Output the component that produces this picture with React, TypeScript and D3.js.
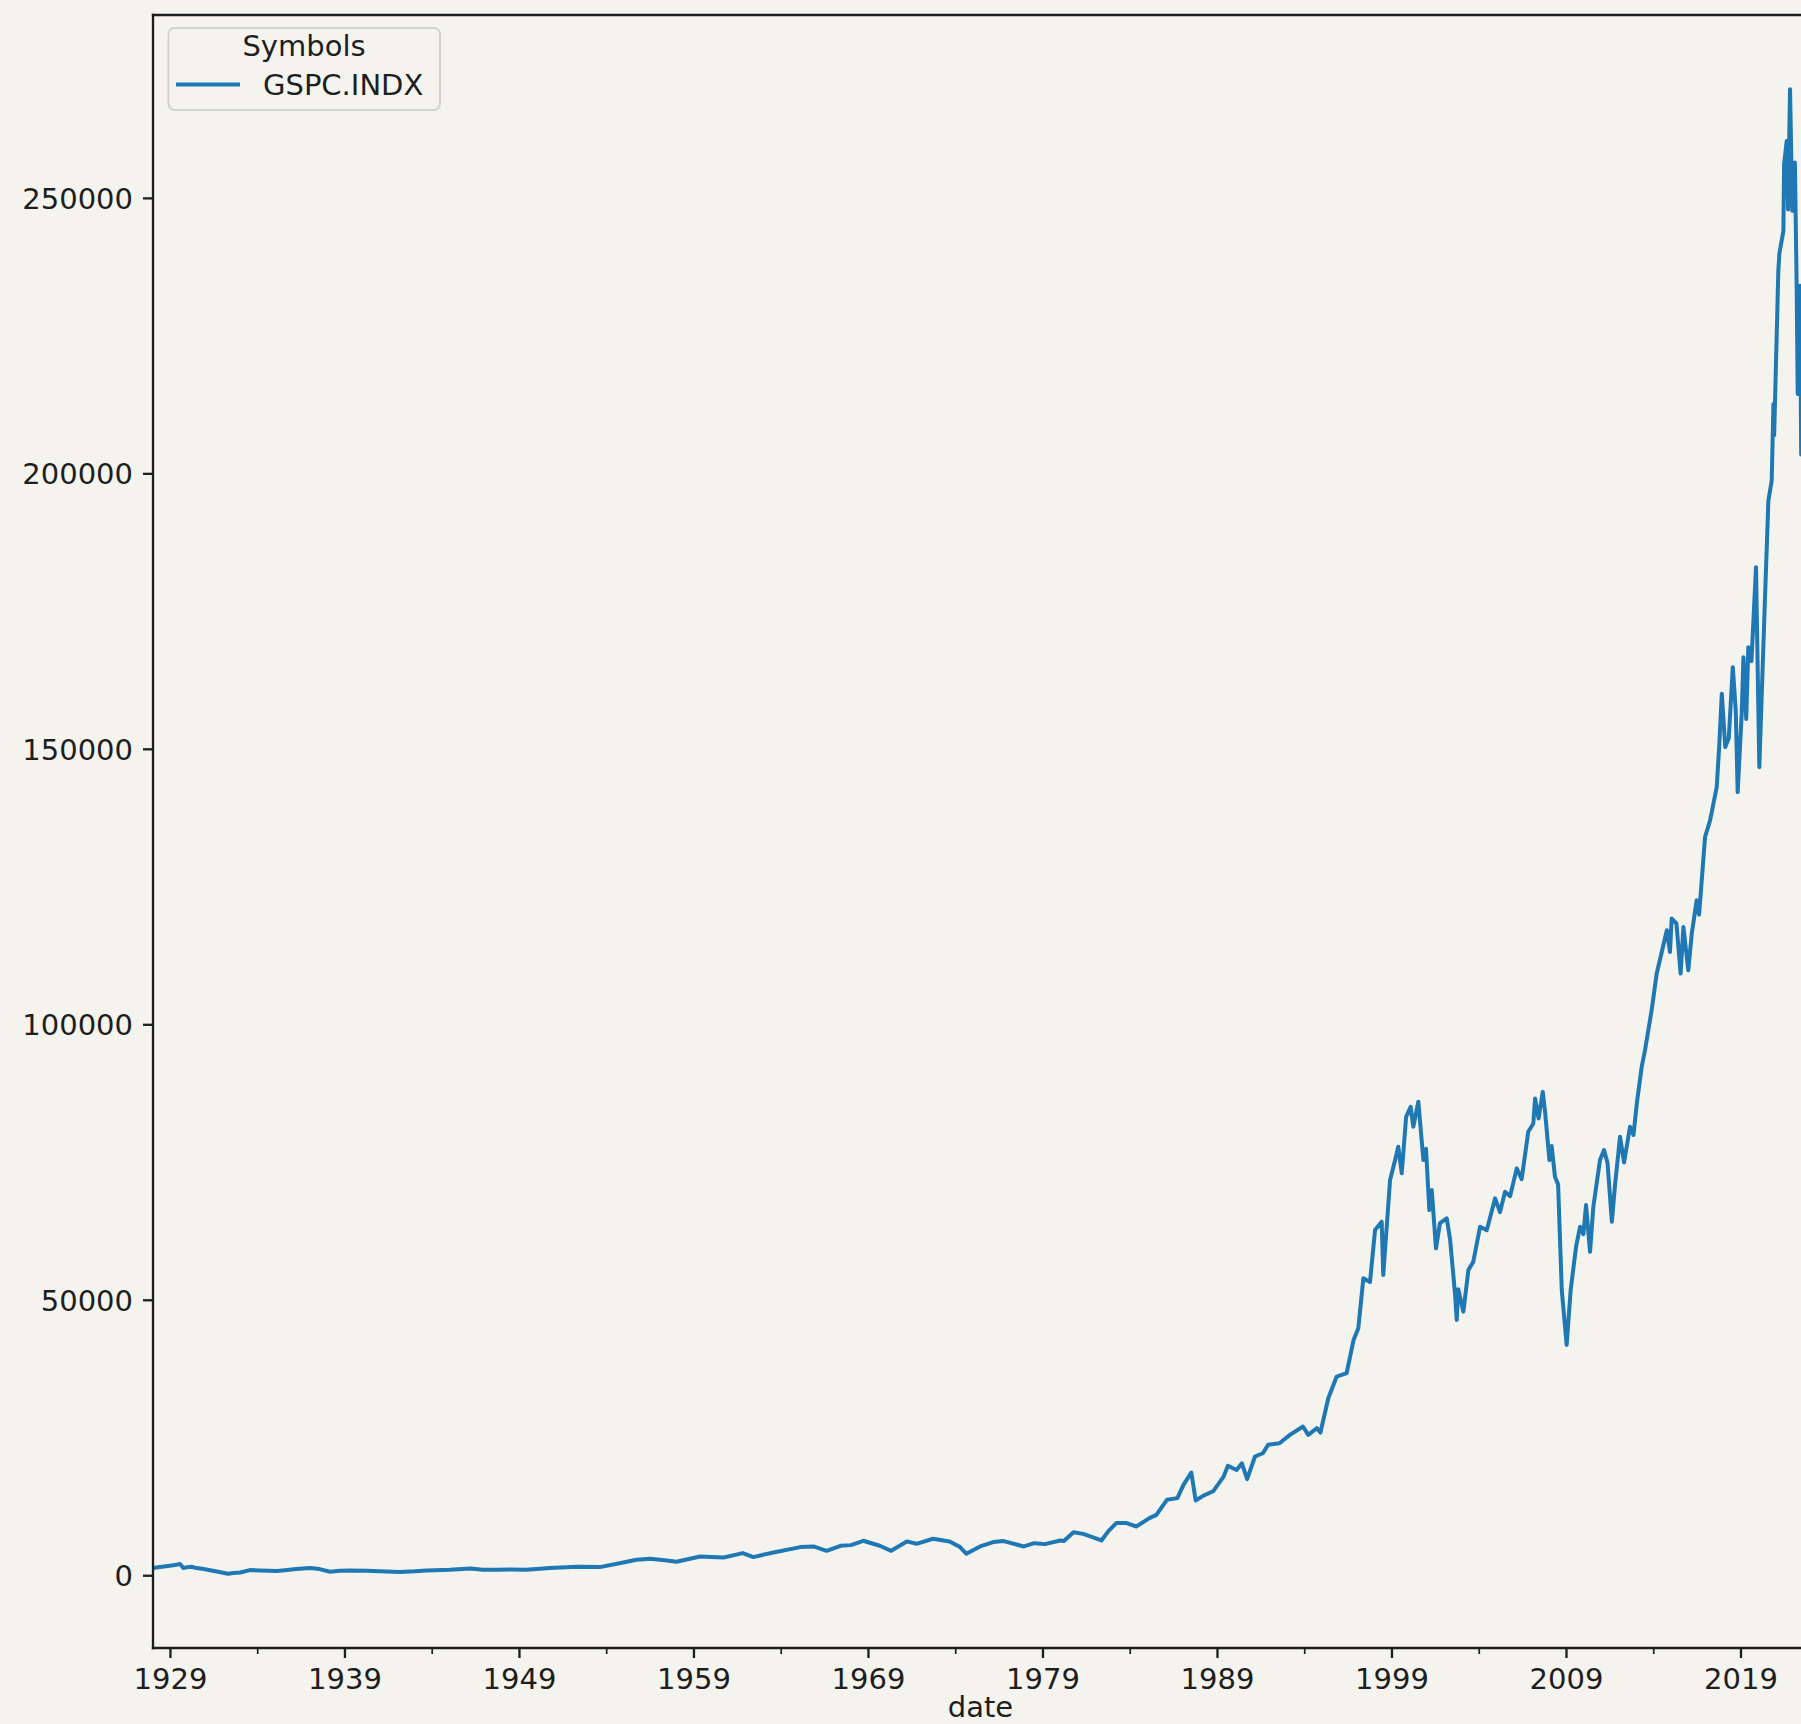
import React, { useEffect } from "react";
import * as d3 from "d3";

// ---- data (decimal year, index level) ----
const years: number[] = [
  1928.0, 1928.4, 1928.97, 1929.26, 1929.55, 1929.74, 1929.95, 1930.2, 1930.5, 1930.9,
  1931.65, 1932.3, 1932.6, 1933.0, 1933.55, 1934.13, 1935.1, 1935.7, 1936.2, 1937.0,
  1937.55, 1938.15, 1938.7, 1939.3, 1940.25, 1941.0, 1942.15, 1943.0, 1943.7, 1945.0,
  1946.2, 1946.9, 1947.7, 1948.45, 1949.4, 1950.75, 1952.3, 1953.6, 1954.95, 1955.7,
  1956.5, 1957.45, 1958.0, 1959.35, 1960.7, 1961.8, 1962.4, 1963.55, 1965.1, 1965.85,
  1966.6, 1967.4, 1968.0, 1968.7, 1969.65, 1970.3, 1971.2, 1971.75, 1972.7, 1973.65,
  1974.25, 1974.6, 1975.4, 1976.15, 1976.75, 1977.9, 1978.5, 1979.1, 1980.0, 1980.2,
  1980.75, 1981.3, 1981.75, 1982.35, 1982.75, 1983.2, 1983.8, 1984.35, 1985.1, 1985.5,
  1986.1, 1986.7, 1987.05, 1987.5, 1987.75, 1988.2, 1988.75, 1989.35, 1989.6, 1990.1,
  1990.4, 1990.7, 1991.15, 1991.6, 1991.9, 1992.55, 1993.15, 1993.9, 1994.2, 1994.7,
  1994.9, 1995.35, 1995.83, 1996.4, 1996.8, 1997.07, 1997.36, 1997.74, 1998.03, 1998.41,
  1998.5, 1998.89, 1999.18, 1999.36, 1999.56, 1999.81, 2000.07, 2000.22, 2000.51, 2000.8,
  2000.95, 2001.14, 2001.28, 2001.52, 2001.75, 2002.14, 2002.33, 2002.61, 2002.71, 2002.8,
  2003.09, 2003.38, 2003.66, 2004.05, 2004.43, 2004.91, 2005.19, 2005.48, 2005.77, 2006.15,
  2006.43, 2006.81, 2007.1, 2007.2, 2007.4, 2007.64, 2007.78, 2008.02, 2008.15, 2008.34,
  2008.52, 2008.73, 2009.01, 2009.24, 2009.55, 2009.78, 2009.97, 2010.12, 2010.35, 2010.54,
  2010.92, 2011.15, 2011.35, 2011.6, 2011.78, 2012.07, 2012.3, 2012.64, 2012.84, 2013.03,
  2013.31, 2013.5, 2013.88, 2014.17, 2014.46, 2014.75, 2014.93, 2015.03, 2015.3, 2015.54,
  2015.7, 2015.98, 2016.18, 2016.46, 2016.6, 2016.94, 2017.23, 2017.42, 2017.61, 2017.76,
  2017.9, 2018.1, 2018.3, 2018.53, 2018.7, 2018.81, 2019.04, 2019.14, 2019.3, 2019.42,
  2019.6, 2019.86, 2020.05, 2020.37, 2020.57, 2020.76, 2020.86, 2020.9, 2021.14, 2021.2,
  2021.43, 2021.47, 2021.62, 2021.7, 2021.81, 2021.94, 2022.09, 2022.19, 2022.25, 2022.38,
  2022.45,
];

const values: number[] = [
  1390, 1580, 1813, 1940, 2120, 1390, 1560, 1630, 1390, 1210,
  780, 360, 500, 600, 1030, 960, 850, 1030, 1210, 1390,
  1210, 725, 900, 960, 900, 800, 670, 800, 960, 1090,
  1330, 1090, 1100, 1150, 1090, 1390, 1630, 1570, 2420, 2900,
  3080, 2780, 2540, 3500, 3320, 4110, 3390, 4230, 5200, 5320,
  4530, 5440, 5560, 6350, 5440, 4530, 6230, 5800, 6710, 6230,
  5200, 3990, 5320, 6110, 6290, 5320, 5920, 5740, 6400, 6300,
  7900, 7600, 7100, 6400, 8100, 9560, 9560, 8940, 10460, 11060,
  13780, 14090, 16500, 18740, 13660, 14550, 15330, 18000, 19950, 19200,
  20400, 17530, 21640, 22240, 23760, 24060, 25570, 27080, 25570, 26780,
  26000, 32230, 36150, 36760, 42800, 44920, 53990, 53300, 62750, 64260,
  54590, 71820, 75450, 77870, 73040, 83300, 85120, 81500, 86030, 75450,
  77500, 66380, 70000, 59430, 64000, 64870, 61000, 51270, 46430, 52000,
  47940, 55500, 57000, 63350, 62700, 68500, 66000, 69700, 68900, 73940,
  72000, 80580, 82100, 86640, 83000, 87830, 84000, 75450, 78000, 72420,
  71000, 51870, 41900, 51870, 59730, 63350, 62000, 67280, 58800, 66980,
  75450, 77260, 75000, 64260, 70910, 79670, 75000, 81480, 80000, 85730,
  92370, 95390, 102650, 109300, 113200, 117160, 113200, 119280, 118400, 109300,
  117760, 109900, 116560, 122600, 120000, 134080, 137100, 140140, 143150, 151020,
  160090, 150400, 152000, 164910, 157000, 142240, 156460, 166720, 155500, 168540,
  166000, 183050, 146780, 177000, 195150, 198770, 212680, 207000, 236860, 240000,
  244110, 256200, 260430, 248000, 269810, 247740, 256500, 234140, 214500, 234140,
  203500,
];

const xTickYears: number[] = [1929, 1939, 1949, 1959, 1969, 1979, 1989, 1999, 2009, 2019];
const xTickLabels: string[] = ["1929", "1939", "1949", "1959", "1969", "1979", "1989", "1999", "2009", "2019"];
const xMinorYears: number[] = [1934, 1944, 1954, 1964, 1974, 1984, 1994, 2004, 2014];
const yTicks: number[] = [0, 50000, 100000, 150000, 200000, 250000];
const xDomain: number[] = [1928.0, 2022.84];
const seriesName = "GSPC.INDX";
const legendTitle = "Symbols";
const xLabel = "date";

// ---- layout ----
const W = 1801;
const H = 1724;
const PLOT = { left: 153, top: 15, right: 1808, bottom: 1648 };
const BG = "#f4f3ed";
const LINE = "#1f77b4";
const TEXT = "#1e1e1e";
const FONT = "'DejaVu Sans', sans-serif";
const FS = 29;

export default function App() {
  useEffect(() => {
    document.body.style.margin = "0";
    document.body.style.background = BG;
  }, []);

  const x = d3.scaleLinear().domain(xDomain).range([PLOT.left, PLOT.right]);
  const [lo, hi] = d3.extent(values) as [number, number];
  const pad = (hi - lo) * 0.05;
  const y = d3.scaleLinear().domain([lo - pad, hi + pad]).range([PLOT.bottom, PLOT.top]);

  const path = d3
    .line<number>()
    .x((_, i) => x(years[i]))
    .y((d) => y(d))(values) as string;

  const tickLen = 10;
  const minorLen = 6;
  const tickPad = 10;

  return (
    <svg
      width={W}
      height={H}
      viewBox={`0 0 ${W} ${H}`}
      style={{ position: "absolute", left: 0, top: 0, display: "block", overflow: "hidden" }}
      fontFamily={FONT}
    >
      <rect x={0} y={0} width={W} height={H} fill={BG} />
      <defs>
        <clipPath id="plotclip">
          <rect x={PLOT.left} y={PLOT.top} width={PLOT.right - PLOT.left} height={PLOT.bottom - PLOT.top} />
        </clipPath>
      </defs>

      {/* series line */}
      <path
        d={path}
        fill="none"
        stroke={LINE}
        strokeWidth={4}
        strokeLinejoin="round"
        strokeLinecap="round"
        clipPath="url(#plotclip)"
      />

      {/* spines */}
      <g stroke={TEXT} strokeWidth={2.3} fill="none" strokeLinecap="square">
        <line x1={PLOT.left} y1={PLOT.top} x2={PLOT.left} y2={PLOT.bottom} />
        <line x1={PLOT.left} y1={PLOT.bottom} x2={PLOT.right} y2={PLOT.bottom} />
        <line x1={PLOT.left} y1={PLOT.top} x2={PLOT.right} y2={PLOT.top} />
        <line x1={PLOT.right} y1={PLOT.top} x2={PLOT.right} y2={PLOT.bottom} />
      </g>

      {/* y ticks */}
      <g>
        {yTicks.map((t) => (
          <g key={t}>
            <line x1={PLOT.left - tickLen} x2={PLOT.left} y1={y(t)} y2={y(t)} stroke={TEXT} strokeWidth={2.3} />
            <text
              x={PLOT.left - tickLen - tickPad}
              y={y(t)}
              dy="0.36em"
              textAnchor="end"
              fontSize={FS}
              fill={TEXT}
            >
              {String(t)}
            </text>
          </g>
        ))}
      </g>

      {/* x ticks */}
      <g>
        {xMinorYears.map((t) => (
          <line key={"m" + t} x1={x(t)} x2={x(t)} y1={PLOT.bottom} y2={PLOT.bottom + minorLen} stroke={TEXT} strokeWidth={1.7} />
        ))}
        {xTickYears.map((t, i) => (
          <g key={t}>
            <line x1={x(t)} x2={x(t)} y1={PLOT.bottom} y2={PLOT.bottom + tickLen} stroke={TEXT} strokeWidth={2.3} />
            <text
              x={x(t)}
              y={PLOT.bottom + tickLen + tickPad + 21}
              textAnchor="middle"
              fontSize={FS}
              fill={TEXT}
            >
              {xTickLabels[i]}
            </text>
          </g>
        ))}
      </g>

      {/* x axis label */}
      <text x={(PLOT.left + PLOT.right) / 2} y={1717} textAnchor="middle" fontSize={FS} fill={TEXT}>
        {xLabel}
      </text>

      {/* legend */}
      <g>
        <rect x={168.5} y={28} width={271.5} height={82} rx={6} ry={6} fill={BG} fillOpacity={0.8} stroke="#d2d2d0" strokeWidth={2} />
        <text x={304} y={56} textAnchor="middle" fontSize={FS} fill={TEXT}>
          {legendTitle}
        </text>
        <line x1={176} x2={240} y1={84.5} y2={84.5} stroke={LINE} strokeWidth={4} />
        <text x={263} y={95} fontSize={FS} fill={TEXT}>
          {seriesName}
        </text>
      </g>
    </svg>
  );
}
